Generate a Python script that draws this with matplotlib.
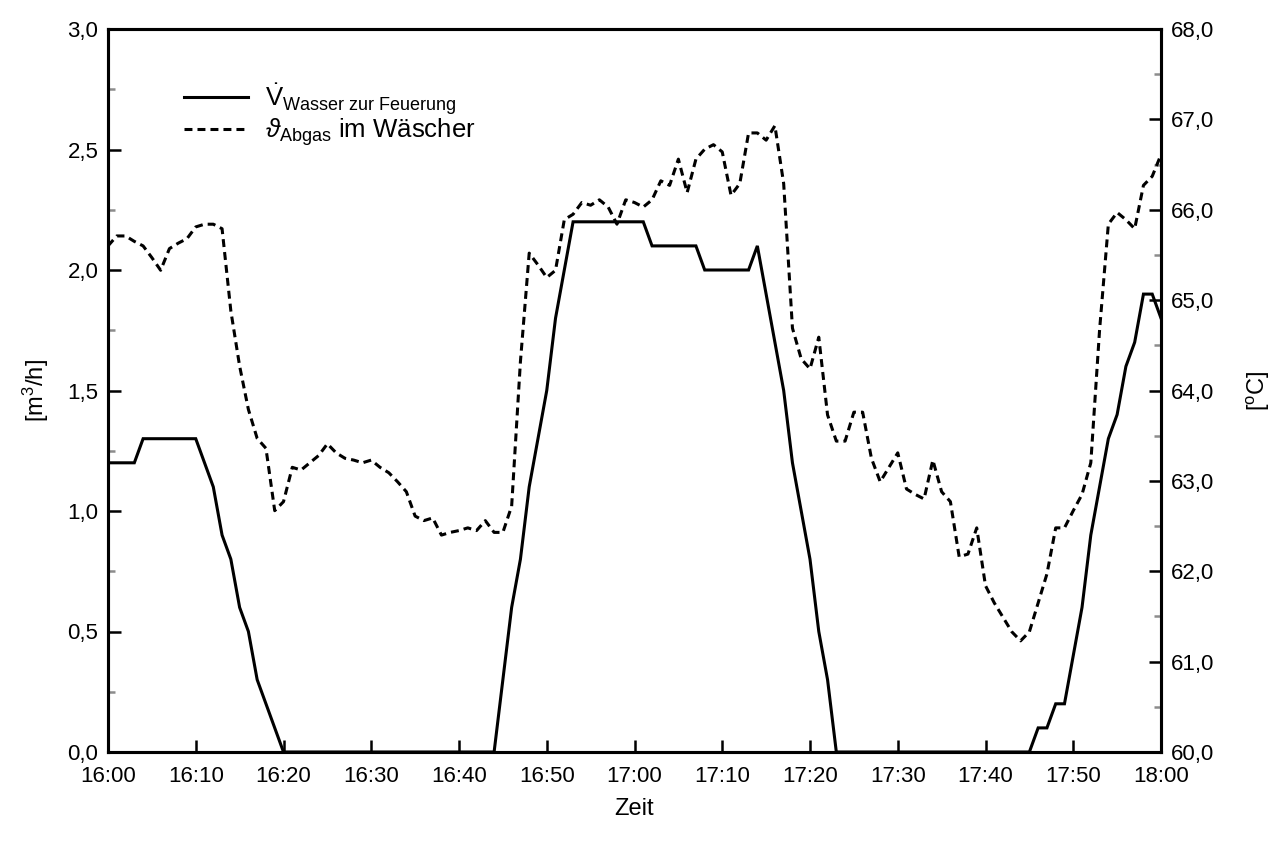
import matplotlib
matplotlib.use('Agg')
import matplotlib.pyplot as plt
from matplotlib.ticker import MultipleLocator, FuncFormatter

plt.rcParams['font.family'] = ['Liberation Sans', 'DejaVu Sans']
plt.rcParams['mathtext.fontset'] = 'custom'
plt.rcParams['mathtext.rm'] = 'Liberation Sans'
plt.rcParams['mathtext.it'] = 'Liberation Sans:italic'

# minutes after 16:00, one sample per minute
minutes = list(range(0, 121))

# volume flow water to firing [m3/h]
flow = ([1.2] * 4 + [1.3] * 7
        + [1.2, 1.1, 0.9, 0.8, 0.6, 0.5, 0.3, 0.2, 0.1, 0.0]
        + [0.0] * 24
        + [0.3, 0.6, 0.8, 1.1, 1.3, 1.5, 1.8, 2.0]
        + [2.2] * 9 + [2.1] * 6 + [2.0] * 6
        + [2.1, 1.9, 1.7, 1.5, 1.2, 1.0, 0.8, 0.5, 0.3]
        + [0.0] * 23
        + [0.1, 0.1, 0.2, 0.2, 0.4, 0.6, 0.9, 1.1, 1.3, 1.4, 1.6, 1.7, 1.9, 1.9, 1.8])

# flue gas temperature in scrubber [degC]
temp = [65.60, 65.71, 65.71, 65.65, 65.60, 65.47, 65.33, 65.57, 65.63, 65.68,
        65.81, 65.84, 65.84, 65.79, 64.88, 64.27, 63.79, 63.47, 63.36, 62.67,
        62.77, 63.15, 63.12, 63.20, 63.28, 63.41, 63.31, 63.25, 63.23, 63.20,
        63.23, 63.15, 63.09, 62.99, 62.88, 62.61, 62.56, 62.59, 62.40, 62.43,
        62.45, 62.48, 62.45, 62.56, 62.43, 62.43, 62.72, 64.32, 65.52, 65.39,
        65.25, 65.33, 65.89, 65.95, 66.08, 66.05, 66.11, 66.03, 65.84, 66.11,
        66.08, 66.03, 66.11, 66.32, 66.27, 66.56, 66.19, 66.56, 66.67, 66.72,
        66.64, 66.16, 66.29, 66.85, 66.85, 66.77, 66.93, 66.29, 64.69, 64.35,
        64.24, 64.59, 63.73, 63.44, 63.44, 63.76, 63.76, 63.25, 62.99, 63.15,
        63.31, 62.91, 62.85, 62.80, 63.23, 62.88, 62.77, 62.16, 62.19, 62.48,
        61.84, 61.65, 61.49, 61.33, 61.23, 61.33, 61.65, 61.97, 62.48, 62.48,
        62.67, 62.85, 63.20, 64.67, 65.84, 65.97, 65.89, 65.79, 66.27, 66.37,
        66.61]

tick_minutes = list(range(0, 121, 10))
tick_labels = ['16:00', '16:10', '16:20', '16:30', '16:40', '16:50', '17:00',
               '17:10', '17:20', '17:30', '17:40', '17:50', '18:00']


def comma(v, pos):
    return f'{v:.1f}'.replace('.', ',')


fig = plt.figure(figsize=(12.74, 8.41), dpi=100)
ax = fig.add_axes([108 / 1274, 1 - 752 / 841, (1161 - 108) / 1274, (752 - 29) / 841])
ax2 = ax.twinx()

l1, = ax.plot(minutes, flow, color='black', lw=2.2, solid_joinstyle='miter')
l2, = ax2.plot(minutes, temp, color='black', lw=2.2, dashes=(2.6, 1.65))

ax.set_xlim(0, 120)
ax.set_ylim(0, 3)
ax2.set_ylim(60, 68)
ax.set_xticks(tick_minutes)
ax.set_xticklabels(tick_labels)

ax.yaxis.set_major_locator(MultipleLocator(0.5))
ax.yaxis.set_minor_locator(MultipleLocator(0.25))
ax2.yaxis.set_major_locator(MultipleLocator(1.0))
ax2.yaxis.set_minor_locator(MultipleLocator(0.5))
ax.yaxis.set_major_formatter(FuncFormatter(comma))
ax2.yaxis.set_major_formatter(FuncFormatter(comma))

for a in (ax, ax2):
    a.tick_params(which='major', direction='in', length=9, width=1.8,
                  labelsize=16, pad=7, color='black')
    a.tick_params(which='minor', direction='in', length=5, width=1.8, color='#8c8c8c')
    for s in a.spines.values():
        s.set_linewidth(2.2)
ax.tick_params(axis='x', pad=10)

ax.set_xlabel('Zeit', fontsize=17, labelpad=8)
ax.set_ylabel(r'[m$^3$/h]', fontsize=17, labelpad=12)
ax2.set_ylabel(r'[$^{\mathrm{o}}$C]', fontsize=17, rotation=90, labelpad=22)

ax.legend([l1, l2],
          [r'$\dot{\mathrm{V}}_{\mathrm{Wasser\ zur\ Feuerung}}$',
           r'$\vartheta_{\mathrm{Abgas}}$ im Wäscher'],
          loc='upper left', bbox_to_anchor=(0.05, 0.96), frameon=False,
          fontsize=18.5, handlelength=2.5, handletextpad=0.65, labelspacing=0.0)

fig.savefig('out.png', dpi=100)
